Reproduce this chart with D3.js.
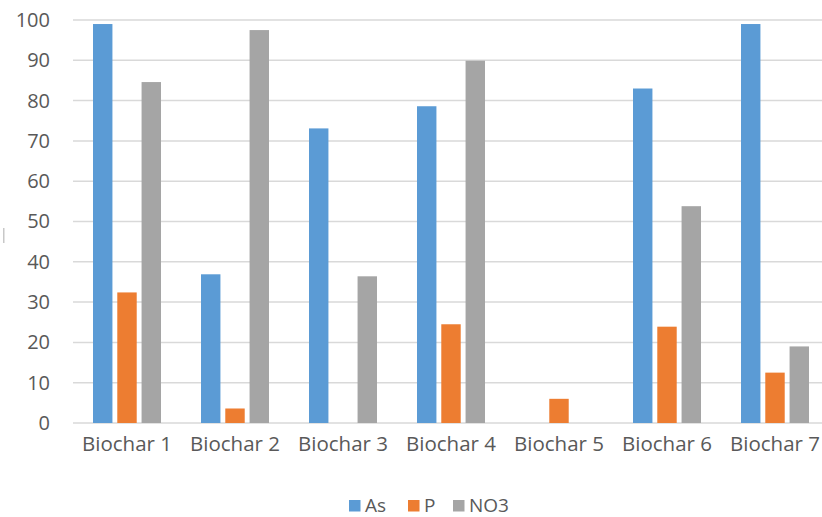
<!DOCTYPE html>
<html>
<head>
<meta charset="utf-8">
<script src="https://cdn.jsdelivr.net/npm/d3@7"></script>
<style>
  html, body { margin: 0; padding: 0; background: #fff; }
  svg { display: block; font-family: "Open Sans", sans-serif; }
</style>
</head>
<body>
<svg id="chart" width="822" height="517"></svg>
<script>
// Categories, series and values
const categories = ["Biochar 1", "Biochar 2", "Biochar 3", "Biochar 4", "Biochar 5", "Biochar 6", "Biochar 7"];
const seriesNames = ["As", "P", "NO3"];
const asValues  = [99.0, 36.9, 73.1, 78.6, 0, 83.0, 99.0];
const pValues   = [32.4, 3.6, 0, 24.5, 6.0, 23.9, 12.5];
const no3Values = [84.6, 97.5, 36.4, 89.9, 0, 53.8, 19.0];
const yTicks = [0, 10, 20, 30, 40, 50, 60, 70, 80, 90, 100];
const colors = ["#5B9BD5", "#ED7D31", "#A5A5A5"];

const seriesValues = [asValues, pValues, no3Values];
const rows = categories.map((c, i) => ({
  category: c,
  values: seriesNames.map((s, j) => ({ series: s, value: seriesValues[j][i], color: colors[j] }))
}));

const svg = d3.select("#chart");
const textColor = "#595959";

const x0 = d3.scaleBand().domain(categories).range([73, 829]).padding(0);
const x1 = d3.scaleBand().domain(seriesNames)
  .range([20, x0.bandwidth() - 20]).paddingInner(0.2).paddingOuter(0);
const y = d3.scaleLinear().domain([0, 100]).range([423, 20]);

// Horizontal gridlines
svg.append("g")
  .selectAll("line")
  .data(yTicks)
  .join("line")
  .attr("x1", 73).attr("x2", 829)
  .attr("y1", d => y(d)).attr("y2", d => y(d))
  .attr("stroke", "#d9d9d9")
  .attr("stroke-width", 1.5);

// Value axis labels
const yAxis = d3.axisLeft(y).tickValues(yTicks).tickSize(0).tickPadding(0);
svg.append("g")
  .attr("transform", "translate(50,0)")
  .call(yAxis)
  .call(g => g.select(".domain").remove())
  .selectAll("text")
  .attr("fill", textColor)
  .attr("font-size", "20px")
  .attr("font-family", "'Open Sans', sans-serif");

// Category axis labels
const xAxis = d3.axisBottom(x0).tickSize(0).tickPadding(0);
svg.append("g")
  .attr("transform", "translate(0,436)")
  .call(xAxis)
  .call(g => g.select(".domain").remove())
  .selectAll("text")
  .attr("fill", textColor)
  .attr("font-size", "20.5px")
  .attr("font-family", "'Open Sans', sans-serif");

// Bars
svg.append("g")
  .selectAll("g")
  .data(rows)
  .join("g")
  .attr("transform", d => `translate(${x0(d.category)},0)`)
  .selectAll("rect")
  .data(d => d.values.filter(v => v.value > 0))
  .join("rect")
  .attr("x", d => x1(d.series))
  .attr("width", x1.bandwidth())
  .attr("y", d => y(d.value))
  .attr("height", d => y(0) - y(d.value))
  .attr("fill", d => d.color);

// Small clipped mark at the left edge
svg.append("rect")
  .attr("x", 3).attr("y", 228).attr("width", 1.5).attr("height", 15)
  .attr("fill", "#c8c8c8");

// Legend
const legendItems = [
  { name: seriesNames[0], color: colors[0], x: 349 },
  { name: seriesNames[1], color: colors[1], x: 408 },
  { name: seriesNames[2], color: colors[2], x: 453 }
];
const legend = svg.append("g");
legend.selectAll("rect")
  .data(legendItems)
  .join("rect")
  .attr("x", d => d.x).attr("y", 500)
  .attr("width", 11.5).attr("height", 11.5)
  .attr("fill", d => d.color);
legend.selectAll("text")
  .data(legendItems)
  .join("text")
  .attr("x", d => d.x + 16).attr("y", 512)
  .attr("fill", textColor)
  .attr("font-size", "19px")
  .text(d => d.name);
</script>
</body>
</html>
